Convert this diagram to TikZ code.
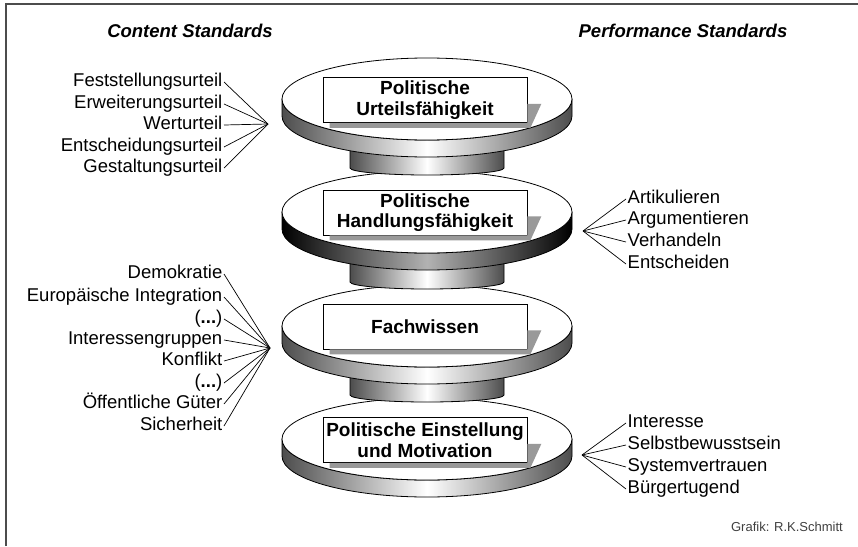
\documentclass[tikz,border=0pt]{standalone}
\usepackage{fontspec}
\setmainfont{Liberation Sans}
\usetikzlibrary{shapes.geometric}
\tikzset{
  face/.style={ellipse, draw, line width=0.8pt, fill=white, minimum width=290pt, minimum height=82pt, inner sep=0pt},
  lbox/.style={draw, line width=0.7pt, fill=white, minimum width=204pt, minimum height=45pt, align=center, inner sep=2pt, font=\bfseries\fontsize{19}{20.5}\selectfont},
  sidegray/.style={left color=black!70, right color=black!70, middle color=white},
  sideblack/.style={left color=black, right color=black, middle color=black!30},
  llab/.style={anchor=east, inner sep=1.5pt, text height=13pt, text depth=4pt, font=\fontsize{18.5}{20}\selectfont},
  rlab/.style={anchor=west, inner sep=1.5pt, text height=13pt, text depth=4pt, font=\fontsize{18.5}{20}\selectfont},
  fan/.style={line width=0.7pt},
  ttl/.style={font=\bfseries\itshape\fontsize{18.5}{20}\selectfont},
  frame/.style={draw=black!70, line width=1.2pt},
}
\newcommand\discside[2]{\path[draw,line width=0.8pt,#2] (282,-#1) -- (282,-#1-17) arc[start angle=180,end angle=360,x radius=145,y radius=41] -- (572,-#1) arc[start angle=0,end angle=-180,x radius=145,y radius=41] -- cycle;}
\newcommand\stemcyl[2]{\path[draw,line width=0.8pt,sidegray] (350,-#1) -- (350,-#2+3) arc[start angle=180,end angle=360,x radius=77,y radius=7] -- (504,-#1) -- cycle;}
\newcommand\boxshadow[1]{\fill[black!40] ([xshift=7pt]#1.south west) -- ([xshift=7pt,yshift=-5pt]#1.south west) -- ([xshift=3pt,yshift=-5pt]#1.south east) -- ([xshift=14pt,yshift=19pt]#1.south east) -- ([yshift=19pt]#1.south east) -- (#1.south east) -- cycle;}
\begin{document}
\begin{tikzpicture}[x=1pt,y=1pt]
\useasboundingbox (0,0) rectangle (858,-546);
\path[frame] (6,-546) -- (6,-4) -- (858,-4);

% titles
\node[ttl] (t1) at (190,-31) {Content Standards};
\node[ttl] (t2) at (683,-31) {Performance Standards};

% disc 4
\discside{439}{sidegray}
\node[face] (d4) at (427,-439) {};
\node[lbox] (b4) at (425,-440) {Politische Einstellung\\und Motivation};
\boxshadow{b4}
\stemcyl{326}{398}
% disc 3
\discside{326}{sidegray}
\node[face] (d3) at (427,-326) {};
\node[lbox] (b3) at (425,-326.5) {Fachwissen};
\boxshadow{b3}
\stemcyl{212}{285}
% disc 2
\discside{212}{sideblack}
\node[face] (d2) at (427,-212) {};
\node[lbox] (b2) at (425,-212.5) {Politische\\Handlungsfähigkeit};
\boxshadow{b2}
\stemcyl{99}{171}
% disc 1
\discside{99}{sidegray}
\node[face] (d1) at (427,-99) {};
\node[lbox] (b1) at (425,-100) {Politische\\Urteilsfähigkeit};
\boxshadow{b1}

% fan points
\coordinate (f1) at (268,-124);
\coordinate (f2) at (583,-231);
\coordinate (f3) at (270,-348);
\coordinate (f4) at (582,-455);

\foreach \t/\y [count=\i] in {Feststellungsurteil/82, Erweiterungsurteil/104, Werturteil/125, Entscheidungsurteil/147, Gestaltungsurteil/168}
  {\node[llab] (u\i) at (224,-\y) {\t}; \draw[fan] (u\i.east) -- (f1);}
\foreach \t/\y [count=\i] in {Artikulieren/199, Argumentieren/220, Verhandeln/242, Entscheiden/264}
  {\node[rlab] (h\i) at (626,-\y) {\t}; \draw[fan] (h\i.west) -- (f2);}
\foreach \t/\y [count=\i] in {Demokratie/274, Europäische Integration/297, {(\textbf{...})}/319, Interessengruppen/340, Konflikt/361, {(\textbf{...})}/383, Öffentliche Güter/404, Sicherheit/426}
  {\node[llab] (w\i) at (224,-\y) {\t}; \draw[fan] (w\i.east) -- (f3);}
\foreach \t/\y [count=\i] in {Interesse/423, Selbstbewusstsein/445, Systemvertrauen/467, Bürgertugend/489}
  {\node[rlab] (m\i) at (626,-\y) {\t}; \draw[fan] (m\i.west) -- (f4);}

\node[anchor=east, text=black!75, font=\fontsize{13}{14}\selectfont, inner sep=0pt] (credit) at (843,-527) {Grafik: R.K.Schmitt};
\end{tikzpicture}
\end{document}
